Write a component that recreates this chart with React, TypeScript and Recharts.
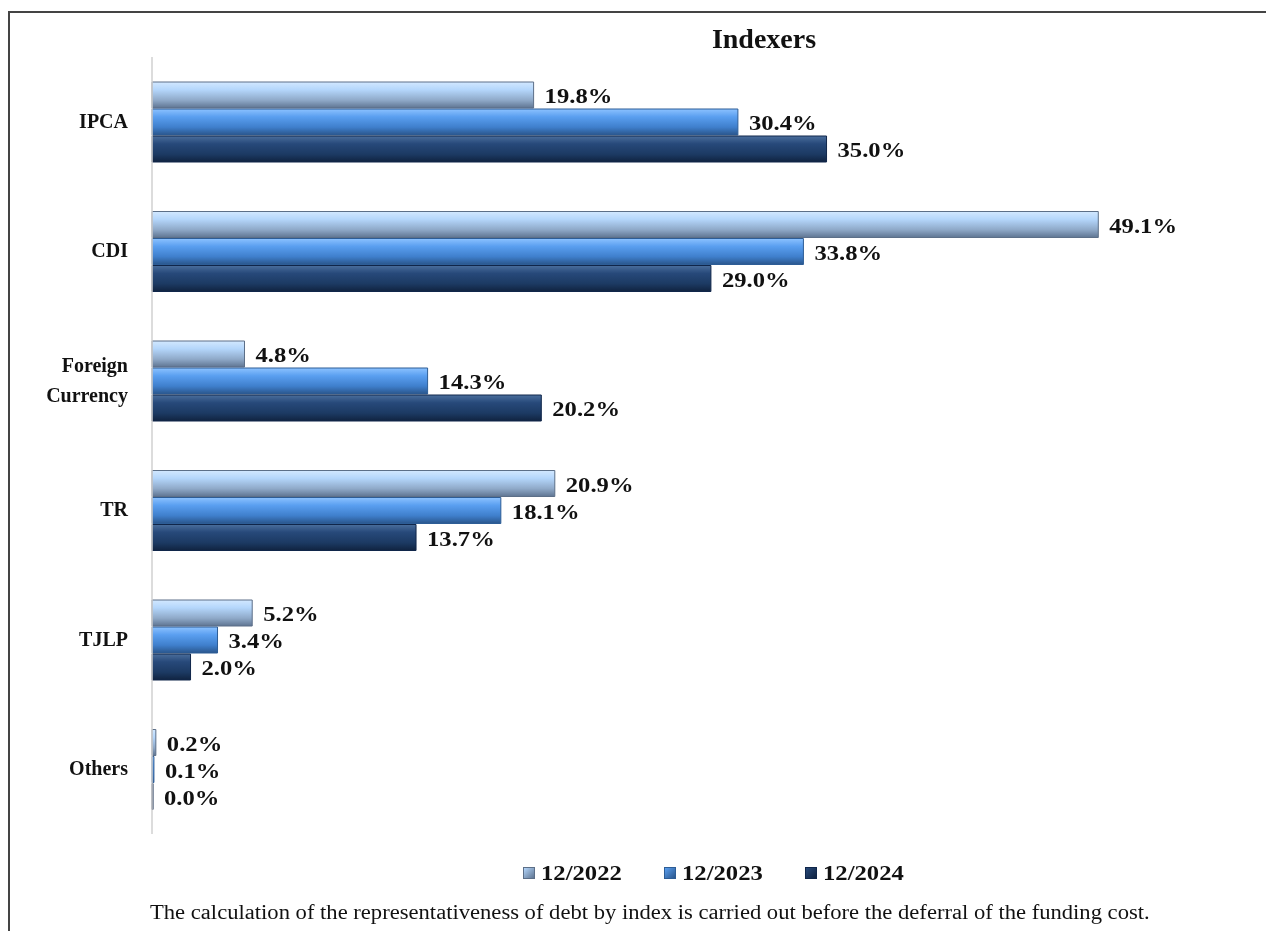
import { BarChart, Bar, XAxis, YAxis, LabelList } from "recharts";

const categories = ["IPCA", "CDI", "Foreign Currency", "TR", "TJLP", "Others"];
const dec2022 = [19.8, 49.1, 4.8, 20.9, 5.2, 0.2];
const dec2023 = [30.4, 33.8, 14.3, 18.1, 3.4, 0.1];
const dec2024 = [35.0, 29.0, 20.2, 13.7, 2.0, 0.0];
const seriesNames = ["12/2022", "12/2023", "12/2024"];

const data = categories.map((name, i) => ({
  name,
  s2022: dec2022[i],
  s2023: dec2023[i],
  s2024: dec2024[i],
}));

const serif = "'Liberation Serif', 'Times New Roman', serif";

const grads = [
  { id: "g2022", stops: ["#d2e8ff", "#b4d6fb", "#8fa9c8", "#5f7592"], edge: "#5c6f88" },
  { id: "g2023", stops: ["#8cc2ff", "#5a9ff0", "#3f7fcc", "#2a568c"], edge: "#2d5d96" },
  { id: "g2024", stops: ["#4a6e9c", "#27497a", "#1c3a63", "#102340"], edge: "#10264a" },
];

const fmt = (v: number) => `${v.toFixed(1)}%`;

const CategoryTick = (props: any) => {
  const { x, y, payload } = props;
  const lines = payload.value === "Foreign Currency" ? ["Foreign", "Currency"] : [payload.value];
  const start = y - ((lines.length - 1) * 30) / 2;
  return (
    <text
      x={x - 16}
      y={start}
      textAnchor="end"
      fontFamily={serif}
      fontWeight="bold"
      fontSize={20}
      fill="#111"
    >
      {lines.map((l, i) => (
        <tspan key={l} x={x - 16} dy={i === 0 ? 6 : 30}>
          {l}
        </tspan>
      ))}
    </text>
  );
};

const ValueLabel = (props: any) => {
  const { x, y, width, height, value } = props;
  const lx = x + width + 11;
  const ly = y + height / 2 + 8;
  return (
    <text
      transform={`translate(${lx},${ly}) scale(1.12,1)`}
      fontFamily={serif}
      fontWeight="bold"
      fontSize={22}
      fill="#111"
    >
      {fmt(Number(value))}
    </text>
  );
};

export default function App() {
  const keys = ["s2022", "s2023", "s2024"];
  return (
    <div
      style={{
        position: "fixed",
        left: 8,
        top: 11,
        width: 1256,
        height: 920,
        borderLeft: "2px solid #444",
        borderTop: "2px solid #444",
        background: "#fff",
      }}
    >
      <div
        style={{
          position: "absolute",
          left: 0,
          width: 1508,
          top: 10,
          textAlign: "center",
          fontFamily: serif,
          fontWeight: "bold",
          fontSize: 28,
          lineHeight: "32px",
          color: "#111",
        }}
      >
        Indexers
      </div>
      <BarChart
        width={1256}
        height={918}
        data={data}
        layout="vertical"
        margin={{ top: 44, right: 54, bottom: 97, left: 0 }}
        barSize={26}
        barGap={1}
      >
        <defs>
          {grads.map((g) => (
            <linearGradient key={g.id} id={g.id} x1="0" y1="0" x2="0" y2="1">
              <stop offset="0%" stopColor={g.stops[0]} />
              <stop offset="30%" stopColor={g.stops[1]} />
              <stop offset="70%" stopColor={g.stops[2]} />
              <stop offset="100%" stopColor={g.stops[3]} />
            </linearGradient>
          ))}
        </defs>
        <XAxis type="number" domain={[0, 55]} hide />
        <YAxis
          type="category"
          dataKey="name"
          width={142}
          axisLine={{ stroke: "#d0d0d0", strokeWidth: 1.5 }}
          tickLine={false}
          tick={<CategoryTick />}
          interval={0}
        />
        {keys.map((k, i) => (
          <Bar
            key={k}
            dataKey={k}
            name={seriesNames[i]}
            fill={`url(#${grads[i].id})`}
            stroke={grads[i].edge}
            strokeWidth={1}
            minPointSize={1}
            isAnimationActive={false}
          >
            <LabelList dataKey={k} content={<ValueLabel />} />
          </Bar>
        ))}
      </BarChart>
      <div
        style={{
          position: "absolute",
          top: 846,
          left: 513,
          display: "flex",
          fontFamily: serif,
          fontWeight: "bold",
          fontSize: 22,
          lineHeight: "28px",
          color: "#111",
        }}
      >
        {seriesNames.map((n, i) => (
          <span key={n} style={{ display: "flex", alignItems: "center", width: 141 }}>
            <span
              style={{
                display: "inline-block",
                width: 10,
                height: 10,
                marginRight: 6,
                background: `linear-gradient(135deg, ${grads[i].stops[1]}, ${grads[i].stops[3]})`,
                border: `1px solid ${grads[i].edge}`,
              }}
            />
            <span style={{ display: "inline-block", transform: "scaleX(1.12)", transformOrigin: "left" }}>
              {n}
            </span>
          </span>
        ))}
      </div>
      <div
        style={{
          position: "absolute",
          top: 886,
          left: 140,
          fontFamily: serif,
          fontSize: 20,
          lineHeight: "26px",
          color: "#111",
          whiteSpace: "nowrap",
          transform: "scaleX(1.13)",
          transformOrigin: "left",
        }}
      >
        The calculation of the representativeness of debt by index is carried out before the deferral of the funding cost.
      </div>
    </div>
  );
}
